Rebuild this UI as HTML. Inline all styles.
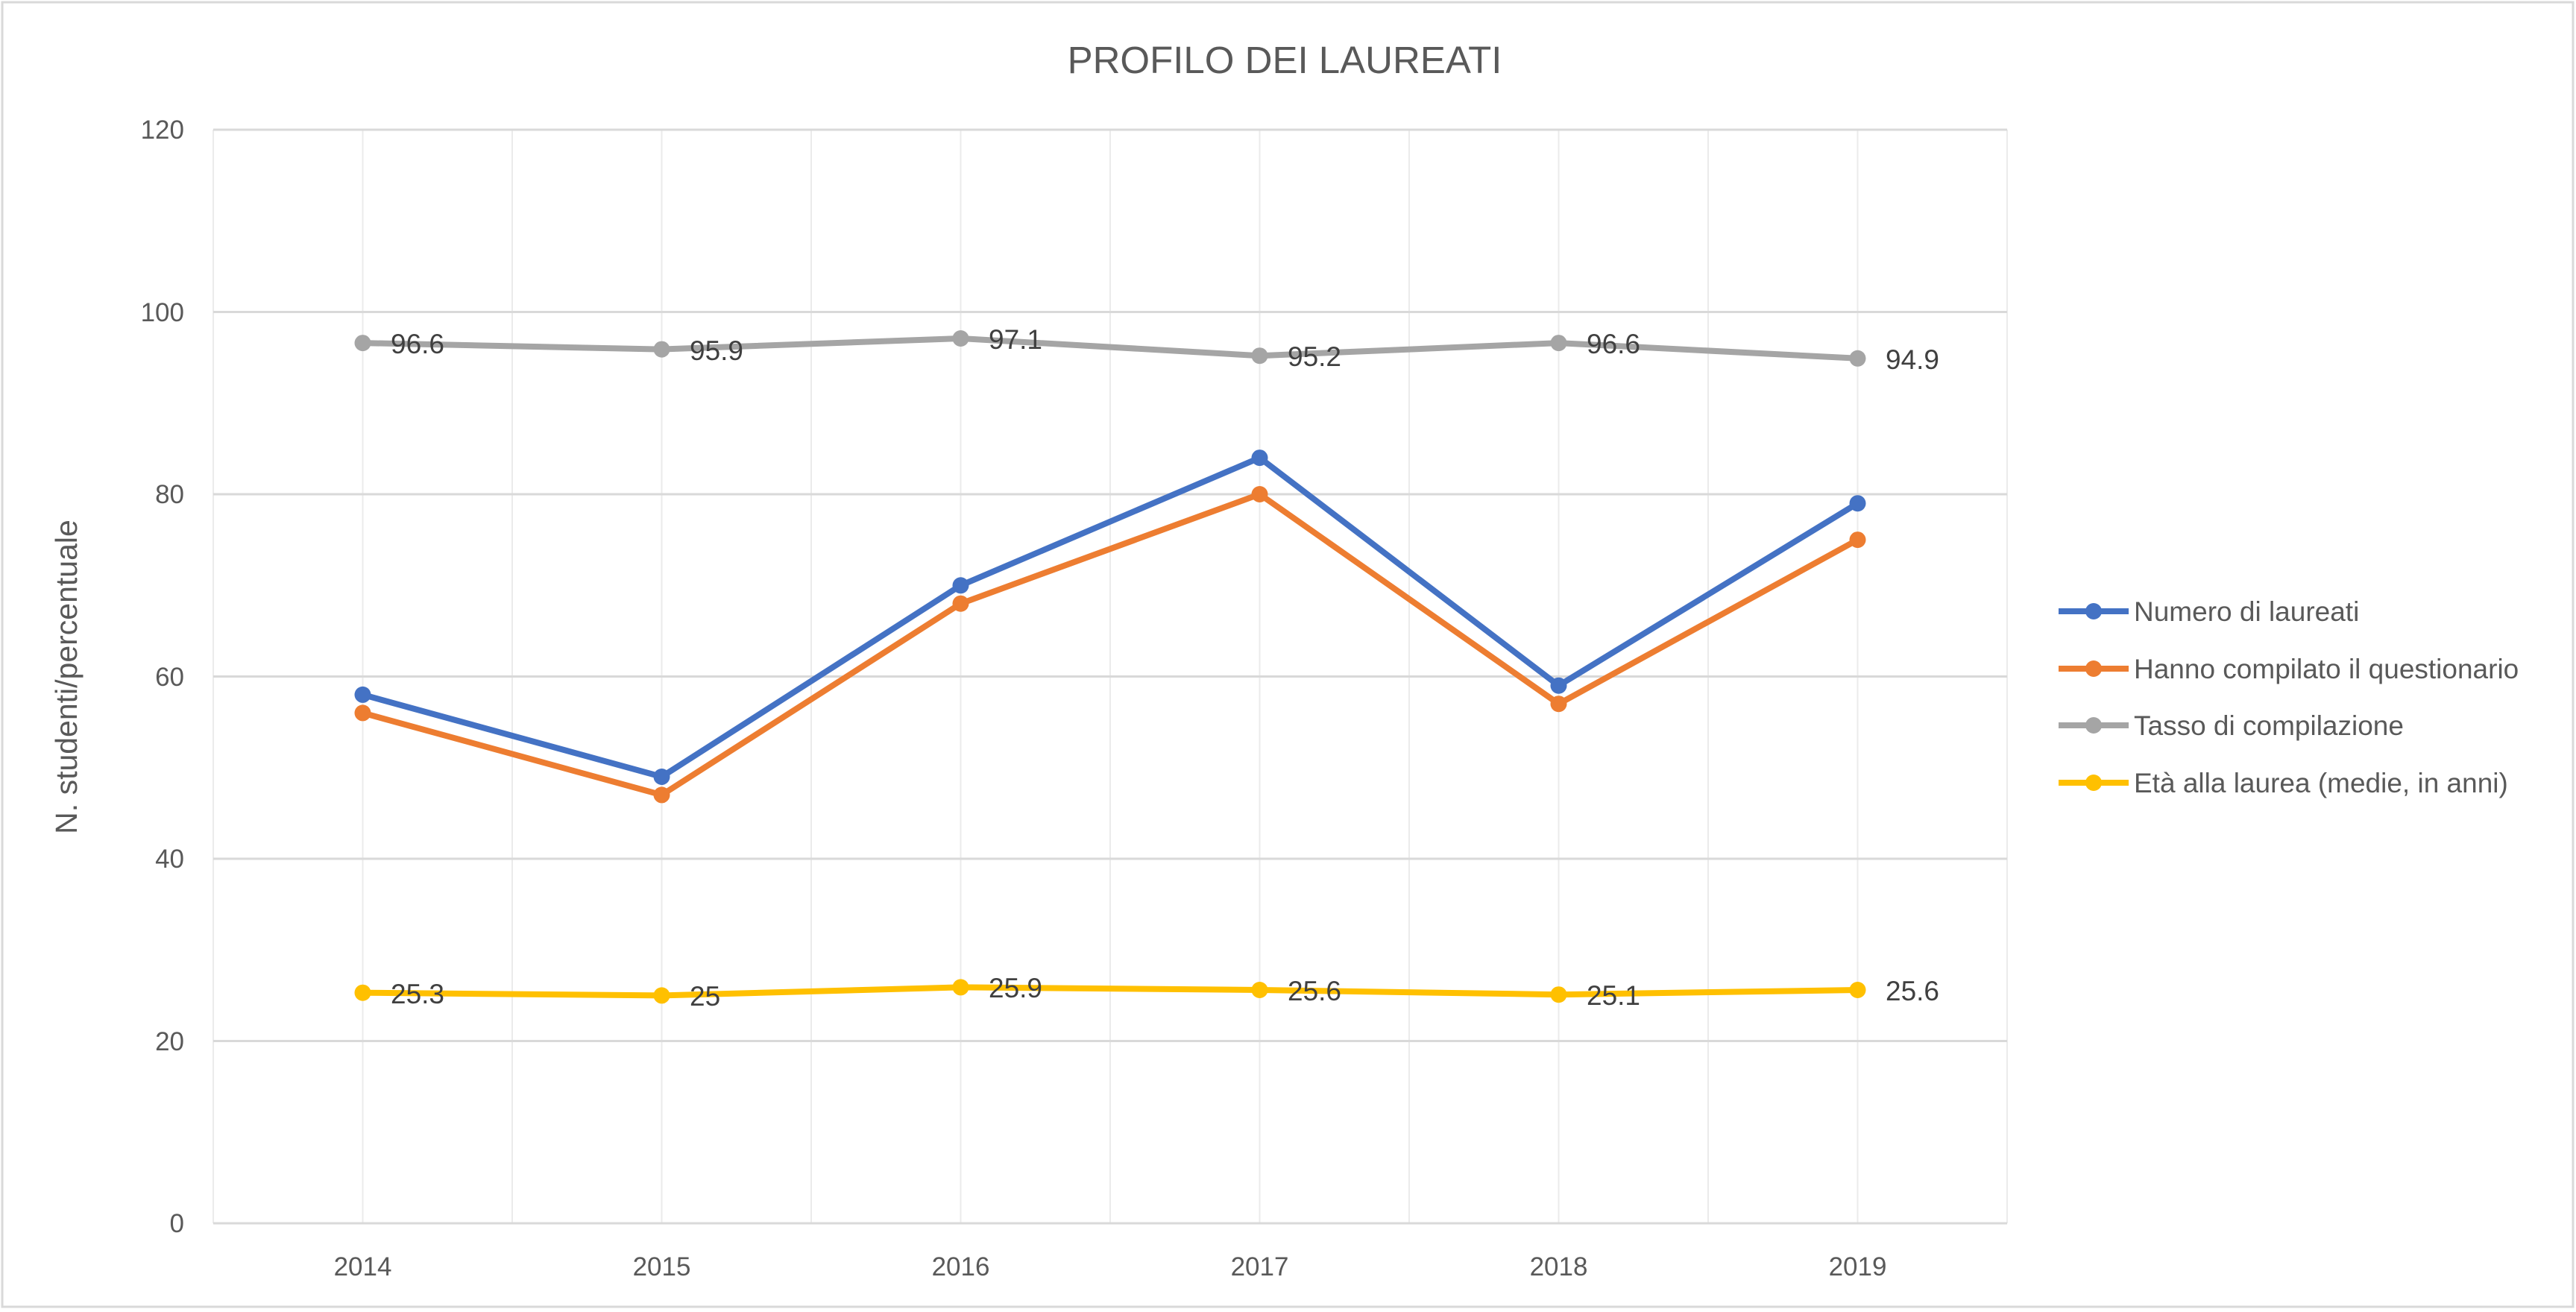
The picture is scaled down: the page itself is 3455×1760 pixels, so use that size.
<!DOCTYPE html>
<html><head><meta charset="utf-8"><style>
html,body{margin:0;padding:0;background:#fff;}
svg{display:block;font-family:"Liberation Sans",sans-serif;}
</style></head><body>
<svg width="3455" height="1760" viewBox="0 0 3455 1760" xmlns="http://www.w3.org/2000/svg">
<rect x="3" y="3" width="3448" height="1750" fill="#fff" stroke="#d9d9d9" stroke-width="3"/>
<text x="1723" y="98" font-size="51" fill="#595959" text-anchor="middle">PROFILO DEI LAUREATI</text>
<g stroke="#ebebeb" stroke-width="2">
<line x1="286" y1="174" x2="286" y2="1641"/><line x1="486.5" y1="174" x2="486.5" y2="1641"/>
<line x1="687" y1="174" x2="687" y2="1641"/><line x1="887.5" y1="174" x2="887.5" y2="1641"/>
<line x1="1088" y1="174" x2="1088" y2="1641"/><line x1="1288.5" y1="174" x2="1288.5" y2="1641"/>
<line x1="1489" y1="174" x2="1489" y2="1641"/><line x1="1689.5" y1="174" x2="1689.5" y2="1641"/>
<line x1="1890" y1="174" x2="1890" y2="1641"/><line x1="2090.5" y1="174" x2="2090.5" y2="1641"/>
<line x1="2291" y1="174" x2="2291" y2="1641"/><line x1="2491.5" y1="174" x2="2491.5" y2="1641"/>
<line x1="2692" y1="174" x2="2692" y2="1641"/>
</g>
<g stroke="#d9d9d9" stroke-width="3">
<line x1="286" y1="174" x2="2692" y2="174"/><line x1="286" y1="418.5" x2="2692" y2="418.5"/>
<line x1="286" y1="663" x2="2692" y2="663"/><line x1="286" y1="907.5" x2="2692" y2="907.5"/>
<line x1="286" y1="1152" x2="2692" y2="1152"/><line x1="286" y1="1396.5" x2="2692" y2="1396.5"/>
<line x1="286" y1="1641" x2="2692" y2="1641"/>
</g>
<g font-size="35" fill="#595959" text-anchor="end">
<text x="247" y="186">120</text><text x="247" y="431">100</text><text x="247" y="675">80</text>
<text x="247" y="920">60</text><text x="247" y="1164">40</text><text x="247" y="1409">20</text><text x="247" y="1653">0</text>
</g>
<g font-size="35" fill="#595959" text-anchor="middle">
<text x="486.5" y="1711">2014</text><text x="887.5" y="1711">2015</text><text x="1288.5" y="1711">2016</text>
<text x="1689.5" y="1711">2017</text><text x="2090.5" y="1711">2018</text><text x="2491.5" y="1711">2019</text>
</g>
<text transform="translate(103,908) rotate(-90)" font-size="41" fill="#595959" text-anchor="middle">N. studenti/percentuale</text>
<g fill="none" stroke-width="8" stroke-linejoin="round">
<polyline stroke="#A5A5A5" points="486.5,460.1 887.5,468.6 1288.5,454 1689.5,477.2 2090.5,460.1 2491.5,480.8"/>
<polyline stroke="#ED7D31" points="486.5,956.4 887.5,1066.4 1288.5,809.7 1689.5,663 2090.5,944.2 2491.5,724.1"/>
<polyline stroke="#4472C4" points="486.5,931.9 887.5,1042 1288.5,785.3 1689.5,614.1 2090.5,919.7 2491.5,675.2"/>
<polyline stroke="#FFC000" points="486.5,1331.7 887.5,1335.4 1288.5,1324.4 1689.5,1328 2090.5,1334.2 2491.5,1328"/>
</g>
<g fill="#A5A5A5"><circle cx="486.5" cy="460.1" r="11"/><circle cx="887.5" cy="468.6" r="11"/><circle cx="1288.5" cy="454" r="11"/><circle cx="1689.5" cy="477.2" r="11"/><circle cx="2090.5" cy="460.1" r="11"/><circle cx="2491.5" cy="480.8" r="11"/></g>
<g fill="#ED7D31"><circle cx="486.5" cy="956.4" r="11"/><circle cx="887.5" cy="1066.4" r="11"/><circle cx="1288.5" cy="809.7" r="11"/><circle cx="1689.5" cy="663" r="11"/><circle cx="2090.5" cy="944.2" r="11"/><circle cx="2491.5" cy="724.1" r="11"/></g>
<g fill="#4472C4"><circle cx="486.5" cy="931.9" r="11"/><circle cx="887.5" cy="1042" r="11"/><circle cx="1288.5" cy="785.3" r="11"/><circle cx="1689.5" cy="614.1" r="11"/><circle cx="2090.5" cy="919.7" r="11"/><circle cx="2491.5" cy="675.2" r="11"/></g>
<g fill="#FFC000"><circle cx="486.5" cy="1331.7" r="11"/><circle cx="887.5" cy="1335.4" r="11"/><circle cx="1288.5" cy="1324.4" r="11"/><circle cx="1689.5" cy="1328" r="11"/><circle cx="2090.5" cy="1334.2" r="11"/><circle cx="2491.5" cy="1328" r="11"/></g>
<g font-size="37" fill="#404040">
<text x="524" y="474">96.6</text><text x="925" y="483">95.9</text><text x="1326" y="468">97.1</text>
<text x="1727" y="491">95.2</text><text x="2128" y="474">96.6</text><text x="2529" y="495">94.9</text>
<text x="524" y="1346">25.3</text><text x="925" y="1349">25</text><text x="1326" y="1338">25.9</text>
<text x="1727" y="1342">25.6</text><text x="2128" y="1348">25.1</text><text x="2529" y="1342">25.6</text>
</g>
<g stroke-width="8">
<line x1="2761" y1="820" x2="2855" y2="820" stroke="#4472C4"/><circle cx="2808" cy="820" r="11" fill="#4472C4"/>
<line x1="2761" y1="897" x2="2855" y2="897" stroke="#ED7D31"/><circle cx="2808" cy="897" r="11" fill="#ED7D31"/>
<line x1="2761" y1="973" x2="2855" y2="973" stroke="#A5A5A5"/><circle cx="2808" cy="973" r="11" fill="#A5A5A5"/>
<line x1="2761" y1="1050" x2="2855" y2="1050" stroke="#FFC000"/><circle cx="2808" cy="1050" r="11" fill="#FFC000"/>
</g>
<g font-size="37" fill="#595959">
<text x="2862" y="833">Numero di laureati</text>
<text x="2862" y="910">Hanno compilato il questionario</text>
<text x="2862" y="986">Tasso di compilazione</text>
<text x="2862" y="1063">Età alla laurea (medie, in anni)</text>
</g>
</svg>
</body></html>
